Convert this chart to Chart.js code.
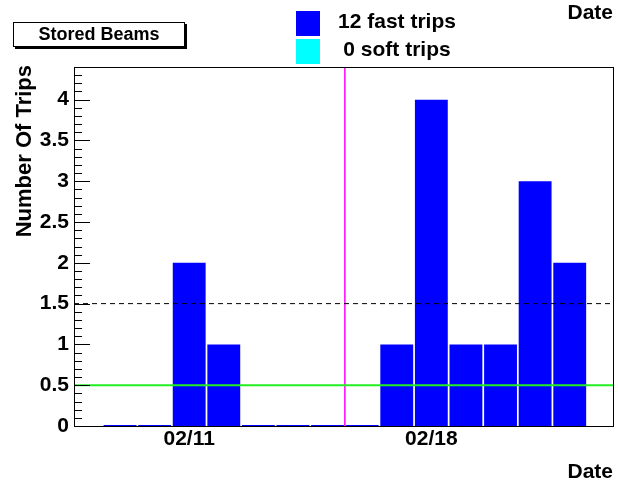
<!DOCTYPE html>
<html>
<head>
<meta charset="utf-8">
<script src="https://cdn.jsdelivr.net/npm/chart.js@4.4.1/dist/chart.umd.min.js"></script>
<style>
  body { margin: 0; background: #fff; }
  canvas { display: block; }
</style>
</head>
<body>
<canvas id="tripChart" width="618" height="484"></canvas>
<script>
// days of February, one bin per day
const days = [9, 10, 11, 12, 13, 14, 15, 16, 17, 18, 19, 20, 21, 22];
const fastTrips = [0, 0, 2, 1, 0, 0, 0, 0, 1, 4, 1, 1, 3, 2];
const xTickDays = [11, 18];
const yTickValues = [0, 0.5, 1, 1.5, 2, 2.5, 3, 3.5, 4];
const xMin = 7.67;
const xMax = 23.28;
const yMax = 4.4;
const greenLevel = 0.5;
const dashedLevel = 1.5;
const markerDay = 15.5;
const legendLabels = ['12 fast trips', '0 soft trips'];
const boxLabel = 'Stored Beams';
const yTitle = 'Number Of Trips';
const xTitle = 'Date';

const FONT = '"Liberation Sans", Arial, Helvetica, sans-serif';

const decor = {
    id: 'decor',
    beforeDraw(chart) {
        const ctx = chart.ctx;
        ctx.save();
        ctx.fillStyle = '#fff';
        ctx.fillRect(0, 0, chart.width, chart.height);
        ctx.restore();
    },
    afterDraw(chart) {
        const ctx = chart.ctx;
        const a = chart.chartArea;
        const y = chart.scales.y;
        ctx.save();

        // frame
        ctx.strokeStyle = '#000';
        ctx.lineWidth = 1;
        ctx.strokeRect(a.left + 0.5, a.top + 0.5, a.right - a.left - 1, a.bottom - a.top);

        // y ticks, drawn inside
        ctx.beginPath();
        for (let i = 0; i <= Math.round(yMax * 10); i++) {
            const v = i / 10;
            const py = Math.round(y.getPixelForValue(v)) + 0.5;
            const len = (i % 5 === 0) ? 16 : 8;
            ctx.moveTo(a.left, py);
            ctx.lineTo(a.left + len, py);
        }
        ctx.stroke();

        // y title
        ctx.fillStyle = '#000';
        ctx.font = 'bold 22px ' + FONT;
        ctx.save();
        ctx.translate(25, 65);
        ctx.rotate(-Math.PI / 2);
        ctx.textAlign = 'right';
        ctx.textBaseline = 'middle';
        ctx.fillText(yTitle, 0, 0);
        ctx.restore();

        // Date labels
        ctx.font = 'bold 21px ' + FONT;
        ctx.textAlign = 'right';
        ctx.textBaseline = 'middle';
        ctx.fillText(xTitle, 613, 13);
        ctx.fillText(xTitle, 613, 472);

        // Stored Beams box
        ctx.fillStyle = '#000';
        ctx.fillRect(15, 24, 172, 25);
        ctx.fillStyle = '#fff';
        ctx.fillRect(13, 22, 172, 25);
        ctx.strokeStyle = '#000';
        ctx.strokeRect(13.5, 22.5, 171, 24);
        ctx.fillStyle = '#000';
        ctx.font = 'bold 18px ' + FONT;
        ctx.textAlign = 'center';
        ctx.fillText(boxLabel, 99, 35);

        // legend
        ctx.fillStyle = '#0000ff';
        ctx.fillRect(296, 11, 24, 25);
        ctx.fillStyle = '#00ffff';
        ctx.fillRect(296, 39, 24, 25);
        ctx.fillStyle = '#000';
        ctx.font = 'bold 21px ' + FONT;
        ctx.textAlign = 'center';
        ctx.fillText(legendLabels[0], 397, 22);
        ctx.fillText(legendLabels[1], 397, 50);

        ctx.restore();
    }
};

const chart = new Chart(document.getElementById('tripChart'), {
    type: 'bar',
    data: {
        datasets: [{
            type: 'line',
            data: [{ x: xMin, y: greenLevel }, { x: xMax, y: greenLevel }],
            borderColor: '#22ee22',
            borderWidth: 2,
            pointRadius: 0,
            order: 1
        }, {
            type: 'line',
            data: [{ x: xMin, y: dashedLevel }, { x: xMax, y: dashedLevel }],
            borderColor: '#000',
            borderWidth: 1,
            borderDash: [5, 4],
            pointRadius: 0,
            order: 1
        }, {
            type: 'line',
            data: [{ x: markerDay, y: 0 }, { x: markerDay, y: yMax }],
            borderColor: '#ff00ff',
            borderWidth: 1.5,
            pointRadius: 0,
            order: 1
        }, {
            data: days.map((d, i) => ({ x: d, y: fastTrips[i] })),
            backgroundColor: '#0000ff',
            borderWidth: 0,
            barPercentage: 0.95,
            categoryPercentage: 1,
            minBarLength: 1,
            order: 2
        }]
    },
    options: {
        responsive: false,
        animation: false,
        devicePixelRatio: 1,
        layout: { padding: { top: 67, right: 4, left: 0, bottom: 0 } },
        plugins: {
            legend: { display: false },
            tooltip: { enabled: false }
        },
        scales: {
            x: {
                type: 'linear',
                min: xMin,
                max: xMax,
                offset: false,
                grid: { display: false, drawTicks: false },
                border: { display: false },
                afterBuildTicks: function (scale) {
                    scale.ticks = xTickDays.map(v => ({ value: v }));
                },
                afterFit: function (scale) { scale.height = 58; },
                ticks: {
                    padding: 1,
                    color: '#000',
                    maxRotation: 0,
                    autoSkip: false,
                    font: { family: FONT, size: 21, weight: 'bold' },
                    callback: v => '02/' + String(v).padStart(2, '0')
                }
            },
            y: {
                min: 0,
                max: yMax,
                grid: { display: false, drawTicks: false },
                border: { display: false },
                afterBuildTicks: function (scale) {
                    scale.ticks = yTickValues.map(v => ({ value: v }));
                },
                afterFit: function (scale) { scale.width = 74; },
                ticks: {
                    padding: 5,
                    color: '#000',
                    font: { family: FONT, size: 21, weight: 'bold' },
                    callback: v => String(v)
                }
            }
        }
    },
    plugins: [decor]
});
</script>
</body>
</html>
